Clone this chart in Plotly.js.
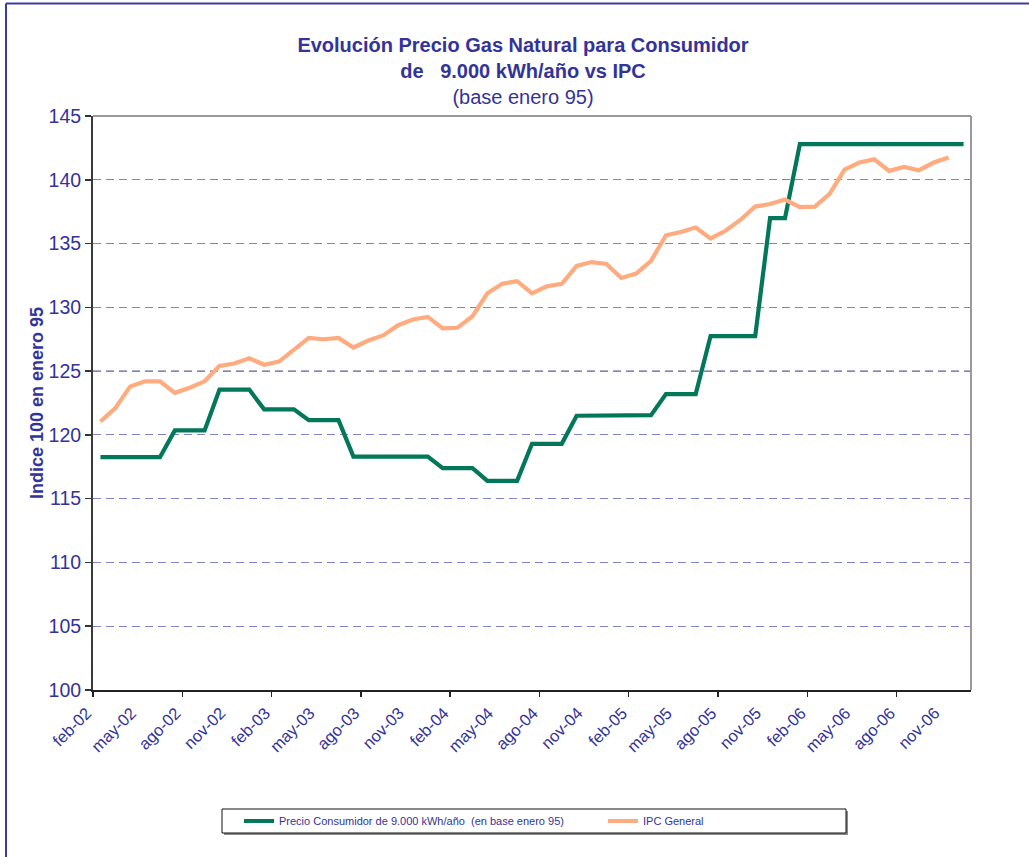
<!DOCTYPE html>
<html>
<head>
<meta charset="utf-8">
<script src="https://cdn.plot.ly/plotly-3.0.1.min.js"></script>
<style>
  html, body { margin: 0; padding: 0; background: #fff; }
  #chart { width: 1029px; height: 857px; }
</style>
</head>
<body>
<div id="chart"></div>
<script>
// Monthly series, feb-02 .. dic-06
const months = [
  "feb-02","mar-02","abr-02","may-02","jun-02","jul-02","ago-02","sep-02","oct-02","nov-02","dic-02",
  "ene-03","feb-03","mar-03","abr-03","may-03","jun-03","jul-03","ago-03","sep-03","oct-03","nov-03","dic-03",
  "ene-04","feb-04","mar-04","abr-04","may-04","jun-04","jul-04","ago-04","sep-04","oct-04","nov-04","dic-04",
  "ene-05","feb-05","mar-05","abr-05","may-05","jun-05","jul-05","ago-05","sep-05","oct-05","nov-05","dic-05",
  "ene-06","feb-06","mar-06","abr-06","may-06","jun-06","jul-06","ago-06","sep-06","oct-06","nov-06","dic-06"
];

// Precio Consumidor de 9.000 kWh/año (base enero 95)
const precioConsumidor = [
  118.25,118.25,118.25,118.25,118.25,
  120.35,120.35,120.35,
  123.55,123.55,123.55,
  122.0,122.0,122.0,
  121.15,121.15,121.15,
  118.3,118.3,118.3,118.3,118.3,118.3,
  117.4,117.4,117.4,
  116.4,116.4,116.4,
  119.3,119.3,119.3,
  121.5,121.5,121.5,121.5,121.52,121.55,
  123.2,123.2,123.2,
  127.75,127.75,127.75,127.75,
  137.0,137.0,
  142.8,142.8,142.8,142.8,142.8,142.8,142.8,142.8,142.8,142.8,142.8,142.8
];

// IPC General (base enero 95), feb-02 .. nov-06
const ipcGeneral = [
  121.05,122.1,123.8,124.2,124.2,123.3,123.7,124.2,125.4,125.6,126.0,
  125.5,125.75,126.65,127.6,127.5,127.6,126.85,127.4,127.8,128.6,129.05,129.25,
  128.35,128.4,129.3,131.1,131.85,132.05,131.1,131.65,131.85,133.25,133.55,133.4,
  132.3,132.65,133.65,135.65,135.9,136.25,135.4,136.0,136.85,137.9,138.1,138.45,
  137.85,137.9,138.9,140.8,141.35,141.6,140.7,141.0,140.75,141.35,141.75
];

// Axis labels every third month, tick marks every six
const labelStep = 3;
const tickStep = 6;

const W = 1029, H = 857;
const M = { l: 93, r: 58, t: 116, b: 167 };
const plotW = W - M.l - M.r, plotH = H - M.t - M.b;
const px = x => (x - M.l) / plotW;          // page x -> paper x
const py = y => (H - M.b - y) / plotH;      // page y -> paper y

const navy = '#333399';
const font = 'Liberation Sans, Arial, sans-serif';

const idx = months.map((_, i) => i);
const tickPos = [], tickText = [];
for (let i = 0; i < months.length; i += labelStep) {
  tickPos.push(i - 0.45);
  tickText.push(months[i]);
}

const traces = [
  {
    x: idx.slice(0, precioConsumidor.length),
    y: precioConsumidor,
    customdata: months,
    type: 'scatter', mode: 'lines',
    name: 'Precio Consumidor de 9.000 kWh/año \u00a0(en base enero 95)',
    line: { color: '#03775a', width: 4.2 },
    legend: 'legend',
    hovertemplate: '%{customdata}: %{y}<extra></extra>'
  },
  {
    x: idx.slice(0, ipcGeneral.length),
    y: ipcGeneral,
    customdata: months,
    type: 'scatter', mode: 'lines',
    name: 'IPC General',
    line: { color: '#ffab7f', width: 4.2 },
    legend: 'legend2',
    hovertemplate: '%{customdata}: %{y}<extra></extra>'
  }
];

const legendBase = {
  orientation: 'h',
  xanchor: 'left',
  y: py(821), yanchor: 'middle',
  bgcolor: 'rgba(0,0,0,0)', borderwidth: 0,
  font: { family: font, size: 11, color: navy }
};

const layout = {
  width: W, height: H,
  margin: M,
  paper_bgcolor: '#fff',
  plot_bgcolor: '#fff',
  showlegend: true,
  font: { family: font, color: navy },
  title: {
    text: '<b>Evolución Precio Gas Natural para Consumidor</b><br>' +
          '<b>de \u00a0 9.000 kWh/año vs IPC</b><br>(base enero 95)',
    font: { family: font, size: 20, color: navy },
    x: 523 / W, xanchor: 'center', xref: 'container',
    y: 1 - 52 / H, yanchor: 'top', yref: 'container'
  },
  xaxis: {
    type: 'linear',
    range: [-0.5, months.length - 0.5],
    tickmode: 'array', tickvals: tickPos, ticktext: tickText,
    tickangle: -45,
    ticks: '',
    ticklabelshift: -7,
    ticklabelstandoff: 5,
    tickfont: { family: font, size: 16.5, color: navy },
    showgrid: false, zeroline: false,
    showline: true, linecolor: '#222', linewidth: 2,
    minor: { tickmode: 'linear', tick0: -0.5, dtick: tickStep, ticks: 'outside', ticklen: 5, tickwidth: 1.5, tickcolor: '#222', showgrid: false }
  },
  yaxis: {
    range: [100, 145],
    dtick: 5, tick0: 100,
    ticks: 'outside', ticklen: 6, tickwidth: 1.5, tickcolor: '#333',
    tickfont: { family: font, size: 19.5, color: navy },
    showline: true, linecolor: '#3a3a3a', linewidth: 2,
    showgrid: true, gridcolor: '#8282c8', gridwidth: 1, griddash: '8px,5px',
    zeroline: false,
    title: { text: '<b>Indice 100 en enero 95</b>', font: { family: font, size: 18, color: navy }, standoff: 0 }
  },
  legend: Object.assign({}, legendBase, { x: px(239) }),
  legend2: Object.assign({}, legendBase, { x: px(603) }),
  shapes: [
    // darker reference rule at 125
    { type: 'line', xref: 'paper', yref: 'y', x0: 0, x1: 1, y0: 125, y1: 125, layer: 'between',
      line: { color: '#2b2b80', width: 1, dash: '8px,5px' } },
    // top and right frame of the plot area
    { type: 'line', xref: 'paper', yref: 'paper', x0: 0, x1: 1, y0: 1, y1: 1, line: { color: '#9a9a9a', width: 2 } },
    { type: 'line', xref: 'paper', yref: 'paper', x0: 1, x1: 1, y0: 0, y1: 1, line: { color: '#9a9a9a', width: 2 } },
    // legend frame with shadow
    { type: 'rect', xref: 'paper', yref: 'paper', x0: px(224), x1: px(848), y0: py(835), y1: py(811),
      line: { width: 0 }, fillcolor: '#8a8a8a', layer: 'below' },
    { type: 'rect', xref: 'paper', yref: 'paper', x0: px(222), x1: px(846), y0: py(833), y1: py(809),
      line: { color: '#111', width: 1 }, fillcolor: '#fff', layer: 'below' },
    // outer chart frame
    { type: 'line', xref: 'paper', yref: 'paper', x0: px(6), x1: px(W + 5), y0: py(3.5), y1: py(3.5), line: { color: '#3c3c9c', width: 2 } },
    { type: 'line', xref: 'paper', yref: 'paper', x0: px(6), x1: px(6), y0: py(3.5), y1: py(H + 5), line: { color: '#3c3c9c', width: 2 } }
  ]
};

Plotly.newPlot('chart', traces, layout, { displayModeBar: false, staticPlot: true });
</script>
</body>
</html>
